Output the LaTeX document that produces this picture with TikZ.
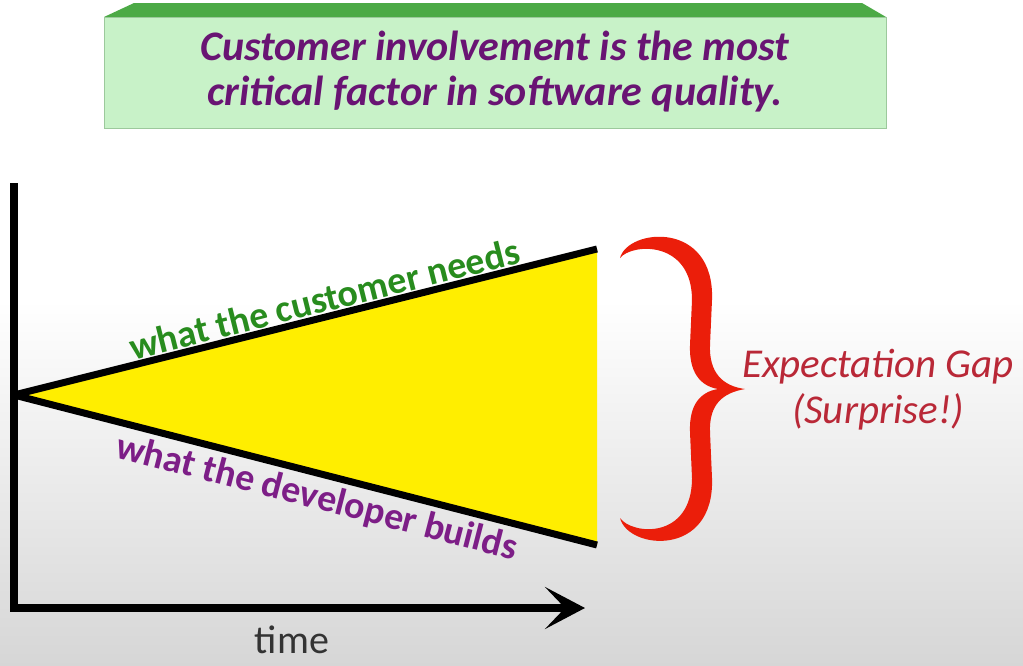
\documentclass[tikz,border=0pt]{standalone}
\usepackage{fontspec}
\setmainfont{Carlito}
\usetikzlibrary{arrows.meta,positioning,calc}
\definecolor{boxgreen}{RGB}{200,242,200}
\definecolor{bevelgreen}{RGB}{76,170,70}
\definecolor{headpurple}{RGB}{105,20,115}
\definecolor{needgreen}{RGB}{40,140,30}
\definecolor{buildpurple}{RGB}{125,30,135}
\definecolor{bracered}{RGB}{235,30,10}
\definecolor{gaptext}{RGB}{185,40,55}
\definecolor{gapyellow}{RGB}{255,238,0}

\begin{document}
\begin{tikzpicture}[x=1pt,y=-1pt]
    \useasboundingbox (0,0) rectangle (1023,665);
    \fill[white] (0,0) rectangle (1023,665);
    \shade[top color=white,bottom color=gray!32] (0,300) rectangle (1023,665);
    % headline box
    \fill[bevelgreen] (134,3) -- (862,3) -- (886,17) -- (104,17) -- cycle;
    \filldraw[fill=boxgreen,draw=green!30!gray!60] (104,17) rectangle (886,128);
    \node[align=center,text=headpurple,font=\fontsize{42}{45}\selectfont\bfseries\itshape] (head) at (495,72) {Customer involvement is the most\\critical factor in software quality.};
    % axes
    \coordinate (ytop) at (14,183);
    \coordinate (corner) at (14,608);
    \coordinate (xend) at (585,608);
    \draw[line width=8pt,-{Stealth[length=40pt,width=42pt,inset=20pt]}] (ytop) -- (corner) -- (xend);
    \node[inner sep=1pt,text=black!80,font=\fontsize{40}{40}\selectfont] (time) at (292,640) {time};
    % the gap
    \coordinate (o) at (14,395);
    \coordinate (n) at (597,249);
    \coordinate (b) at (597,545);
    \fill[gapyellow] (o) -- (n) -- (b) -- cycle;
    \draw[line width=7pt] (o) -- (n);
    \draw[line width=7pt] (o) -- (b);
    \path (o) -- (n) node[pos=.54,sloped,above=1pt,text=needgreen,font=\fontsize{38}{38}\selectfont\bfseries] (needs) {what the customer needs};
    \path (o) -- (b) node[pos=.53,sloped,below=5pt,text=buildpurple,font=\fontsize{38}{38}\selectfont\bfseries] (builds) {what the developer builds};
    % brace
    \fill[bracered] (620,258)
      .. controls (628,228) and (715,220) .. (712,300) -- (710,345)
      .. controls (709,372) and (722,386) .. (745,389)
      .. controls (722,393) and (709,405) .. (710,432) -- (712,478)
      .. controls (715,558) and (628,550) .. (620,518)
      .. controls (632,535) and (692,540) .. (692,478) -- (690,432)
      .. controls (689,405) and (700,392) .. (718,389)
      .. controls (700,386) and (689,372) .. (690,345) -- (692,300)
      .. controls (692,240) and (632,243) .. (620,258) -- cycle;
    \node[align=center,text=gaptext,font=\fontsize{41}{46}\selectfont\itshape] (gap) at (878,390) {Expectation Gap\\(Surprise!)};
  \end{tikzpicture}
\end{document}
